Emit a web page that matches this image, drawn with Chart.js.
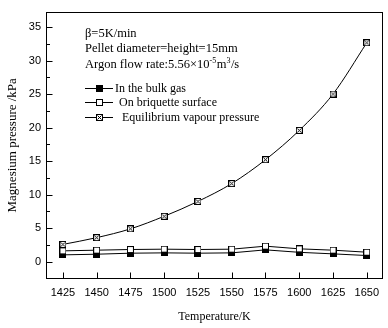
<!DOCTYPE html>
<html><head><meta charset="utf-8">
<script src="https://cdn.jsdelivr.net/npm/chart.js@4.4.1/dist/chart.umd.min.js"></script>
<style>html,body{margin:0;padding:0;background:#fff}#wrap{width:388px;height:328px;position:relative}</style>
</head><body><div id="wrap"><canvas id="c" width="388" height="328"></canvas></div>
<script>
const temperatures = [1425, 1450, 1475, 1500, 1525, 1550, 1575, 1600, 1625, 1650];
const bulkGas = [1.0, 1.1, 1.25, 1.3, 1.25, 1.3, 1.75, 1.38, 1.15, 0.9];
const briquetteSurface = [1.6, 1.7, 1.8, 1.85, 1.8, 1.85, 2.3, 1.9, 1.7, 1.4];
const equilibriumPressure = [2.56, 3.57, 4.88, 6.76, 8.98, 11.64, 15.2, 19.57, 25.0, 32.65];
const seriesNames = ['In the bulk gas', 'On briquette surface', 'Equilibrium vapour pressure'];
const xTicks = [1425, 1450, 1475, 1500, 1525, 1550, 1575, 1600, 1625, 1650];
const yTicks = [0, 5, 10, 15, 20, 25, 30, 35];
const yMinorTicks = [2.5, 7.5, 12.5, 17.5, 22.5, 27.5, 32.5];
const xTitle = 'Temperature/K';
const yTitle = 'Magnesium pressure /kPa';
const noteLine1 = 'β=5K/min';
const noteLine2 = 'Pellet diameter=height=15mm';
const noteLine3 = [['Argon flow rate:5.56×10', 0], ['-5', 1], ['m', 0], ['3', 1], ['/s', 0]];

function makeMarker(kind) {
  const c = document.createElement('canvas');
  c.width = 7; c.height = 7;
  const g = c.getContext('2d');
  g.fillStyle = kind === 'filled' ? '#000' : '#fff';
  g.fillRect(0, 0, 7, 7);
  g.strokeStyle = '#000'; g.lineWidth = 1;
  g.strokeRect(0.5, 0.5, 6, 6);
  if (kind === 'cross') {
    g.beginPath();
    g.moveTo(1.5, 1.5); g.lineTo(5.5, 5.5);
    g.moveTo(5.5, 1.5); g.lineTo(1.5, 5.5);
    g.stroke();
  }
  return c;
}
const markers = [makeMarker('filled'), makeMarker('open'), makeMarker('cross')];
const serif = 'Liberation Serif, Times New Roman, serif';
const sans = 'Liberation Sans, Arial, sans-serif';

const toPts = arr => temperatures.map((t, i) => ({x: t, y: arr[i]}));

const decor = {
  id: 'decor',
  afterDraw(chart) {
    const {ctx, chartArea: a, scales: {x, y}} = chart;
    ctx.save();
    ctx.strokeStyle = '#000'; ctx.lineWidth = 1;
    const L = Math.round(a.left) + 0.5, T = Math.round(a.top) + 0.5;
    const R = Math.round(a.right) - 0.5, B = Math.round(a.bottom) - 0.5;
    ctx.strokeRect(L, T, R - L, B - T);
    ctx.beginPath();
    yTicks.forEach(v => { const p = Math.round(y.getPixelForValue(v)) + 0.5; ctx.moveTo(L, p); ctx.lineTo(L + 6, p); });
    yMinorTicks.forEach(v => { const p = Math.round(y.getPixelForValue(v)) + 0.5; ctx.moveTo(L, p); ctx.lineTo(L + 3.5, p); });
    xTicks.forEach(v => { const p = Math.round(x.getPixelForValue(v)) + 0.5; ctx.moveTo(p, B); ctx.lineTo(p, B - 6); });
    ctx.stroke();

    // annotations
    ctx.fillStyle = '#000';
    ctx.textBaseline = 'alphabetic';
    ctx.textAlign = 'left';
    ctx.font = '12.5px ' + serif;
    ctx.fillText(noteLine1, 85, 37);
    ctx.fillText(noteLine2, 85, 52);
    let cx = 85;
    noteLine3.forEach(([txt, sup]) => {
      ctx.font = (sup ? '8px ' : '12.5px ') + serif;
      ctx.fillText(txt, cx, sup ? 63 : 68);
      cx += ctx.measureText(txt).width + (sup ? 0.5 : 0);
    });

    // legend
    const ly = [88, 102, 117];
    const tx = [115, 119, 122];
    ctx.font = '12px ' + serif;
    ctx.textBaseline = 'middle';
    seriesNames.forEach((name, i) => {
      const yy = ly[i] + 0.5;
      ctx.beginPath(); ctx.moveTo(85, yy); ctx.lineTo(113, yy); ctx.stroke();
      ctx.drawImage(markers[i], 96, ly[i] - 3);
      ctx.fillText(name, tx[i], ly[i] + 1);
    });
    ctx.restore();
  }
};

new Chart(document.getElementById('c'), {
  type: 'line',
  data: {
    datasets: [
      {label: seriesNames[0], data: toPts(bulkGas), borderColor: '#000', borderWidth: 1, pointStyle: markers[0], tension: 0, order: 3},
      {label: seriesNames[1], data: toPts(briquetteSurface), borderColor: '#000', borderWidth: 1, pointStyle: markers[1], tension: 0, order: 2},
      {label: seriesNames[2], data: toPts(equilibriumPressure), borderColor: '#000', borderWidth: 1, pointStyle: markers[2], cubicInterpolationMode: 'monotone', order: 1}
    ]
  },
  options: {
    responsive: false, animation: false, devicePixelRatio: 1,
    layout: {padding: {left: 0, right: 2, top: 3, bottom: 0}},
    plugins: {legend: {display: false}, tooltip: {enabled: false}},
    scales: {
      x: {
        type: 'linear', min: 1412.5, max: 1662,
        afterBuildTicks: s => { s.ticks = xTicks.map(v => ({value: v})); },
        afterFit: s => { s.height = 49; },
        ticks: {color: '#000', font: {family: sans, size: 11}, padding: 7, maxRotation: 0, callback: v => String(v)},
        grid: {display: false, drawTicks: false}, border: {display: false},
        title: {display: true, text: xTitle, color: '#000', font: {family: serif, size: 12}, padding: {top: 0, bottom: 4}}
      },
      y: {
        type: 'linear', min: -2.6, max: 37.3,
        afterBuildTicks: s => { s.ticks = yTicks.map(v => ({value: v})); },
        afterFit: s => { s.width = 46; },
        ticks: {color: '#000', font: {family: sans, size: 11}, padding: 5, callback: v => String(v)},
        grid: {display: false, drawTicks: false}, border: {display: false},
        title: {display: true, text: yTitle, color: '#000', font: {family: serif, size: 13}, padding: {top: 5, bottom: 0}}
      }
    }
  },
  plugins: [decor]
});
</script>
</body></html>
